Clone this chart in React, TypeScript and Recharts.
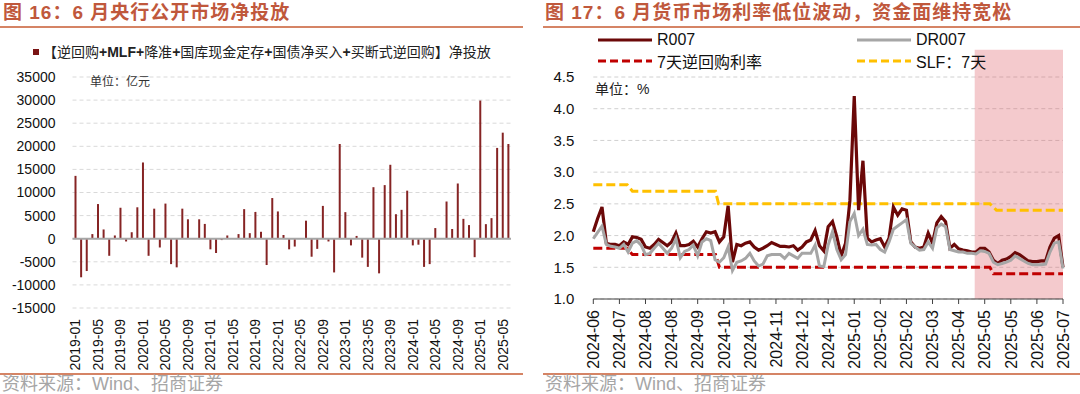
import React from 'react';
import {
  BarChart, Bar, LineChart, Line, XAxis, YAxis, CartesianGrid, ReferenceLine, ReferenceArea,
} from 'recharts';

const FONT = '"Liberation Sans", Arial, "Noto Sans CJK SC", sans-serif';
const TITLE_COLOR = '#C0583C';
const RULE_COLOR = '#D58465';

// ---- 图16: monthly net injection (亿元), 2019-01 .. 2025-06
const injectYears = [2019, 2020, 2021, 2022, 2023, 2024, 2025];
const netInjection = [
  13600, -8350, -7000, 1000, 7500, 2000, -3700, 700, 6700, -600, 1400, 6800,
  16500, -3700, 6500, -1900, 7600, -5500, -6200, 6500, 4200, 100, 4200, 3200,
  -2300, -3100, -300, 700, 0, 1000, 6400, 1200, 5800, 1500, -5700, 8800,
  5900, 800, -2300, -1700, 0, 3900, -3900, -2200, 7100, -600, -7300, 20500,
  5750, -1450, 600, -4100, -6100, 11150, -7500, 11600, 16000, 5300, 6250, 10400,
  -1450, -1300, -6100, -5500, 2300, 0, 8050, 2100, 11950, 4300, 2950, -4000,
  29900, 3150, 4450, 19650, 22950, 20500,
];
const injectTicks = [-15000, -10000, -5000, 0, 5000, 10000, 15000, 20000, 25000, 30000, 35000];
const injectMonths = injectYears
  .flatMap((y) => ['01', '02', '03', '04', '05', '06', '07', '08', '09', '10', '11', '12'].map((m) => `${y}-${m}`))
  .slice(0, netInjection.length);
const injectData = injectMonths.map((month, i) => ({ month, value: netInjection[i] }));

// ---- 图17: money market rates (%), 6 points between axis labels
const rateTickLabels = [
  '2024-06', '2024-07', '2024-08', '2024-08', '2024-09', '2024-10', '2024-10', '2024-11', '2024-12', '2024-12',
  '2025-01', '2025-02', '2025-02', '2025-03', '2025-04', '2025-05', '2025-05', '2025-06', '2025-07',
];
const POINTS_PER_TICK = 6;
const r007 = [
  2.06, 2.27, 2.45, 1.88, 1.86, 1.86, 1.84, 1.90, 1.86, 1.98, 1.97, 1.94, 1.82, 1.80, 1.86, 1.94, 1.89, 1.84,
  1.90, 2.04, 1.84, 1.84, 1.86, 1.91, 1.82, 1.95, 2.06, 2.04, 2.06, 1.90, 1.98, 2.47, 1.58, 1.86, 1.84, 1.88,
  1.90, 1.82, 1.77, 1.80, 1.84, 1.89, 1.86, 1.83, 1.83, 1.82, 1.84, 1.77, 1.82, 1.90, 1.93, 2.08, 1.84, 1.76,
  2.14, 2.22, 1.98, 1.68, 1.88, 2.55, 4.20, 2.40, 3.18, 1.96, 1.90, 1.93, 1.95, 1.82, 1.96, 2.45, 2.32, 2.42,
  2.40, 1.90, 1.82, 1.80, 1.82, 2.04, 1.88, 2.20, 2.30, 2.22, 1.80, 1.86, 1.79, 1.77, 1.76, 1.74, 1.74, 1.80,
  1.80, 1.74, 1.61, 1.56, 1.61, 1.63, 1.67, 1.73, 1.70, 1.65, 1.60, 1.59, 1.59, 1.60, 1.60, 1.82, 1.96, 2.00,
  1.50,
];
const dr007 = [
  1.95, 2.05, 2.15, 1.86, 1.83, 1.82, 1.80, 1.86, 1.74, 1.88, 1.92, 1.85, 1.70, 1.72, 1.80, 1.88, 1.80, 1.72,
  1.80, 1.95, 1.65, 1.75, 1.78, 1.85, 1.68, 1.90, 1.95, 1.92, 1.62, 1.58, 1.65, 1.82, 1.45, 1.58, 1.60, 1.64,
  1.72, 1.60, 1.52, 1.55, 1.68, 1.70, 1.70, 1.70, 1.64, 1.72, 1.68, 1.64, 1.72, 1.72, 1.72, 1.85, 1.52, 1.51,
  1.85, 2.06, 1.78, 1.62, 1.70, 2.22, 2.35, 2.00, 2.10, 1.86, 1.85, 1.86, 1.78, 1.74, 1.90, 2.10, 2.15, 2.20,
  2.25, 1.88, 1.82, 1.77, 1.78, 1.90, 1.80, 2.12, 2.18, 2.14, 1.78, 1.76, 1.74, 1.74, 1.72, 1.72, 1.71, 1.76,
  1.75, 1.72, 1.58, 1.54, 1.56, 1.58, 1.61, 1.68, 1.64, 1.60, 1.56, 1.54, 1.54, 1.54, 1.55, 1.74, 1.88, 1.90,
  1.48,
];
// policy rates: change points (position on the same scale)
const repoX = [0, 7.8, 9.0, 28.1, 29.0, 91.2, 92.0, 108];
const repoRate = [1.8, 1.8, 1.7, 1.7, 1.5, 1.5, 1.4, 1.4];
const slfX = [0, 7.8, 9.0, 28.1, 28.8, 91.2, 92.7, 108];
const slfRate = [2.8, 2.8, 2.7, 2.7, 2.5, 2.5, 2.4, 2.4];
const easingPeriod = [87.7, 108];
const rateTicksY = [1.0, 1.5, 2.0, 2.5, 3.0, 3.5, 4.0, 4.5];

const rateData = r007.map((v, i) => ({ x: i, r007: v, dr007: dr007[i] }));
const repoData = repoX.map((x, i) => ({ x, v: repoRate[i] }));
const slfData = slfX.map((x, i) => ({ x, v: slfRate[i] }));
const rateTicksX = rateTickLabels.map((_, i) => i * POINTS_PER_TICK);

const RotatedTick = (props: any) => {
  const { x, y, payload, fontSize, label } = props;
  const text = label ? label(payload.value) : payload.value;
  return (
    <text
      x={x}
      y={y}
      transform={`rotate(-90 ${x} ${y})`}
      textAnchor="end"
      dy="0.36em"
      fontSize={fontSize}
      fontFamily={FONT}
      fill="#111"
    >
      {text}
    </text>
  );
};

const LegendSample = ({ color, dashed }: { color: string; dashed?: boolean }) => (
  <svg width={54} height={8} style={{ display: 'block' }}>
    <line x1={0} y1={4} x2={54} y2={4} stroke={color} strokeWidth={3}
      strokeDasharray={dashed ? '8 4' : undefined} />
  </svg>
);

const rateLegend = [
  { name: 'R007', color: '#6B0808', dashed: false, left: 58, top: 40 },
  { name: 'DR007', color: '#A6A6A6', dashed: false, left: 317, top: 40 },
  { name: '7天逆回购利率', color: '#C00000', dashed: true, left: 58, top: 61 },
  { name: 'SLF：7天', color: '#FFC000', dashed: true, left: 317, top: 61 },
];

export default function App() {
  return (
    <div style={{ position: 'absolute', left: 0, top: 0, width: 1080, height: 394, background: '#fff', overflow: 'hidden', fontFamily: FONT }}>
      {/* ---------- left panel ---------- */}
      <div style={{ position: 'absolute', left: 3, top: 1, fontSize: 19, fontWeight: 'bold', color: TITLE_COLOR, letterSpacing: 1, lineHeight: '24px', whiteSpace: 'nowrap' }}>
        图 16：6 月央行公开市场净投放
      </div>
      <div style={{ position: 'absolute', left: 0, top: 26, width: 523, height: 2, background: RULE_COLOR }} />

      <div style={{ position: 'absolute', left: 0, top: 0 }}>
        <BarChart width={540} height={394} data={injectData} margin={{ top: 77, right: 29, bottom: 0, left: 0 }}>
          <CartesianGrid vertical={false} stroke="#D9D9D9" strokeDasharray="4 3" />
          <XAxis
            dataKey="month"
            interval={3}
            height={86}
            axisLine={false}
            tickLine={false}
            tickSize={0}
            tickMargin={11}
            tick={(p: any) => <RotatedTick {...p} fontSize={14} />}
          />
          <YAxis
            domain={[-15000, 35000]}
            ticks={injectTicks}
            width={72.5}
            axisLine={false}
            tickLine={false}
            tickSize={0}
            tickMargin={17}
            tick={{ fontSize: 14, fill: '#111', fontFamily: FONT }}
          />
          <ReferenceLine y={0} stroke="#A6A6A6" strokeWidth={2} />
          <Bar dataKey="value" fill="#862424" barSize={2} isAnimationActive={false} />
        </BarChart>
      </div>

      <div style={{ position: 'absolute', left: 33, top: 49, width: 6, height: 6, background: '#7A1414' }} />
      <div style={{ position: 'absolute', left: 43, top: 42, fontSize: 14, lineHeight: '20px', color: '#222', whiteSpace: 'nowrap' }}>
        【逆回购<b>+MLF+</b>降准<b>+</b>国库现金定存<b>+</b>国债净买入<b>+</b>买断式逆回购】净投放
      </div>
      <div style={{ position: 'absolute', left: 90, top: 74, fontSize: 12, lineHeight: '16px', color: '#333', whiteSpace: 'nowrap' }}>
        单位：亿元
      </div>

      <div style={{ position: 'absolute', left: 0, top: 373, width: 523, height: 2, background: RULE_COLOR }} />
      <div style={{ position: 'absolute', left: 2, top: 374, fontSize: 18, lineHeight: '20px', color: '#A6A6A6', whiteSpace: 'nowrap' }}>
        资料来源：Wind、招商证券
      </div>

      {/* ---------- right panel ---------- */}
      <div style={{ position: 'absolute', left: 545, top: 1, fontSize: 19, fontWeight: 'bold', color: TITLE_COLOR, letterSpacing: 1, lineHeight: '24px', whiteSpace: 'nowrap' }}>
        图 17：6 月货币市场利率低位波动，资金面维持宽松
      </div>
      <div style={{ position: 'absolute', left: 543, top: 26, width: 537, height: 2, background: RULE_COLOR }} />

      <div style={{ position: 'absolute', left: 540, top: 0 }}>
        <LineChart width={540} height={394} data={rateData} margin={{ top: 77, right: 17, bottom: 0, left: 0 }}>
          <CartesianGrid vertical={false} stroke="#D0D0D0" strokeDasharray="4 3" />
          <XAxis
            type="number"
            dataKey="x"
            domain={[0, (rateTickLabels.length - 1) * POINTS_PER_TICK]}
            ticks={rateTicksX}
            interval={0}
            height={95}
            stroke="#404040"
            tickSize={5}
            tickMargin={6}
            tick={(p: any) => (
              <RotatedTick {...p} fontSize={16} label={(v: number) => rateTickLabels[Math.round(v / POINTS_PER_TICK)]} />
            )}
          />
          <YAxis
            domain={[1, 4.5]}
            ticks={rateTicksY}
            width={53.3}
            axisLine={false}
            tickLine={false}
            tickSize={0}
            tickMargin={19}
            tickFormatter={(v: number) => v.toFixed(1)}
            tick={{ fontSize: 15, fill: '#111', fontFamily: FONT }}
          />
          <Line data={repoData} dataKey="v" stroke="#C00000" strokeWidth={3} strokeDasharray="9 4" dot={false} isAnimationActive={false} />
          <Line data={slfData} dataKey="v" stroke="#FFC000" strokeWidth={3} strokeDasharray="9 4" dot={false} isAnimationActive={false} />
          <Line dataKey="r007" stroke="#6B0808" strokeWidth={3.2} dot={false} isAnimationActive={false} />
          <Line dataKey="dr007" stroke="#A6A6A6" strokeWidth={3} dot={false} isAnimationActive={false} />
          <ReferenceArea
            x1={easingPeriod[0]}
            x2={easingPeriod[1]}
            y1={1}
            y2={4.93}
            ifOverflow="visible"
            fill="#DC5A64"
            fillOpacity={0.32}
            stroke="none"
          />
        </LineChart>
      </div>

      {rateLegend.map((item) => (
        <div key={item.name} style={{ position: 'absolute', left: 540 + item.left, top: item.top - 10, height: 20, display: 'flex', alignItems: 'center', whiteSpace: 'nowrap' }}>
          <LegendSample color={item.color} dashed={item.dashed} />
          <span style={{ marginLeft: 5, fontSize: 16, color: '#111' }}>{item.name}</span>
        </div>
      ))}
      <div style={{ position: 'absolute', left: 595, top: 81, fontSize: 14, lineHeight: '16px', color: '#222', whiteSpace: 'nowrap' }}>
        单位：%
      </div>

      <div style={{ position: 'absolute', left: 543, top: 373, width: 537, height: 2, background: RULE_COLOR }} />
      <div style={{ position: 'absolute', left: 545, top: 374, fontSize: 18, lineHeight: '20px', color: '#A6A6A6', whiteSpace: 'nowrap' }}>
        资料来源：Wind、招商证券
      </div>
    </div>
  );
}
